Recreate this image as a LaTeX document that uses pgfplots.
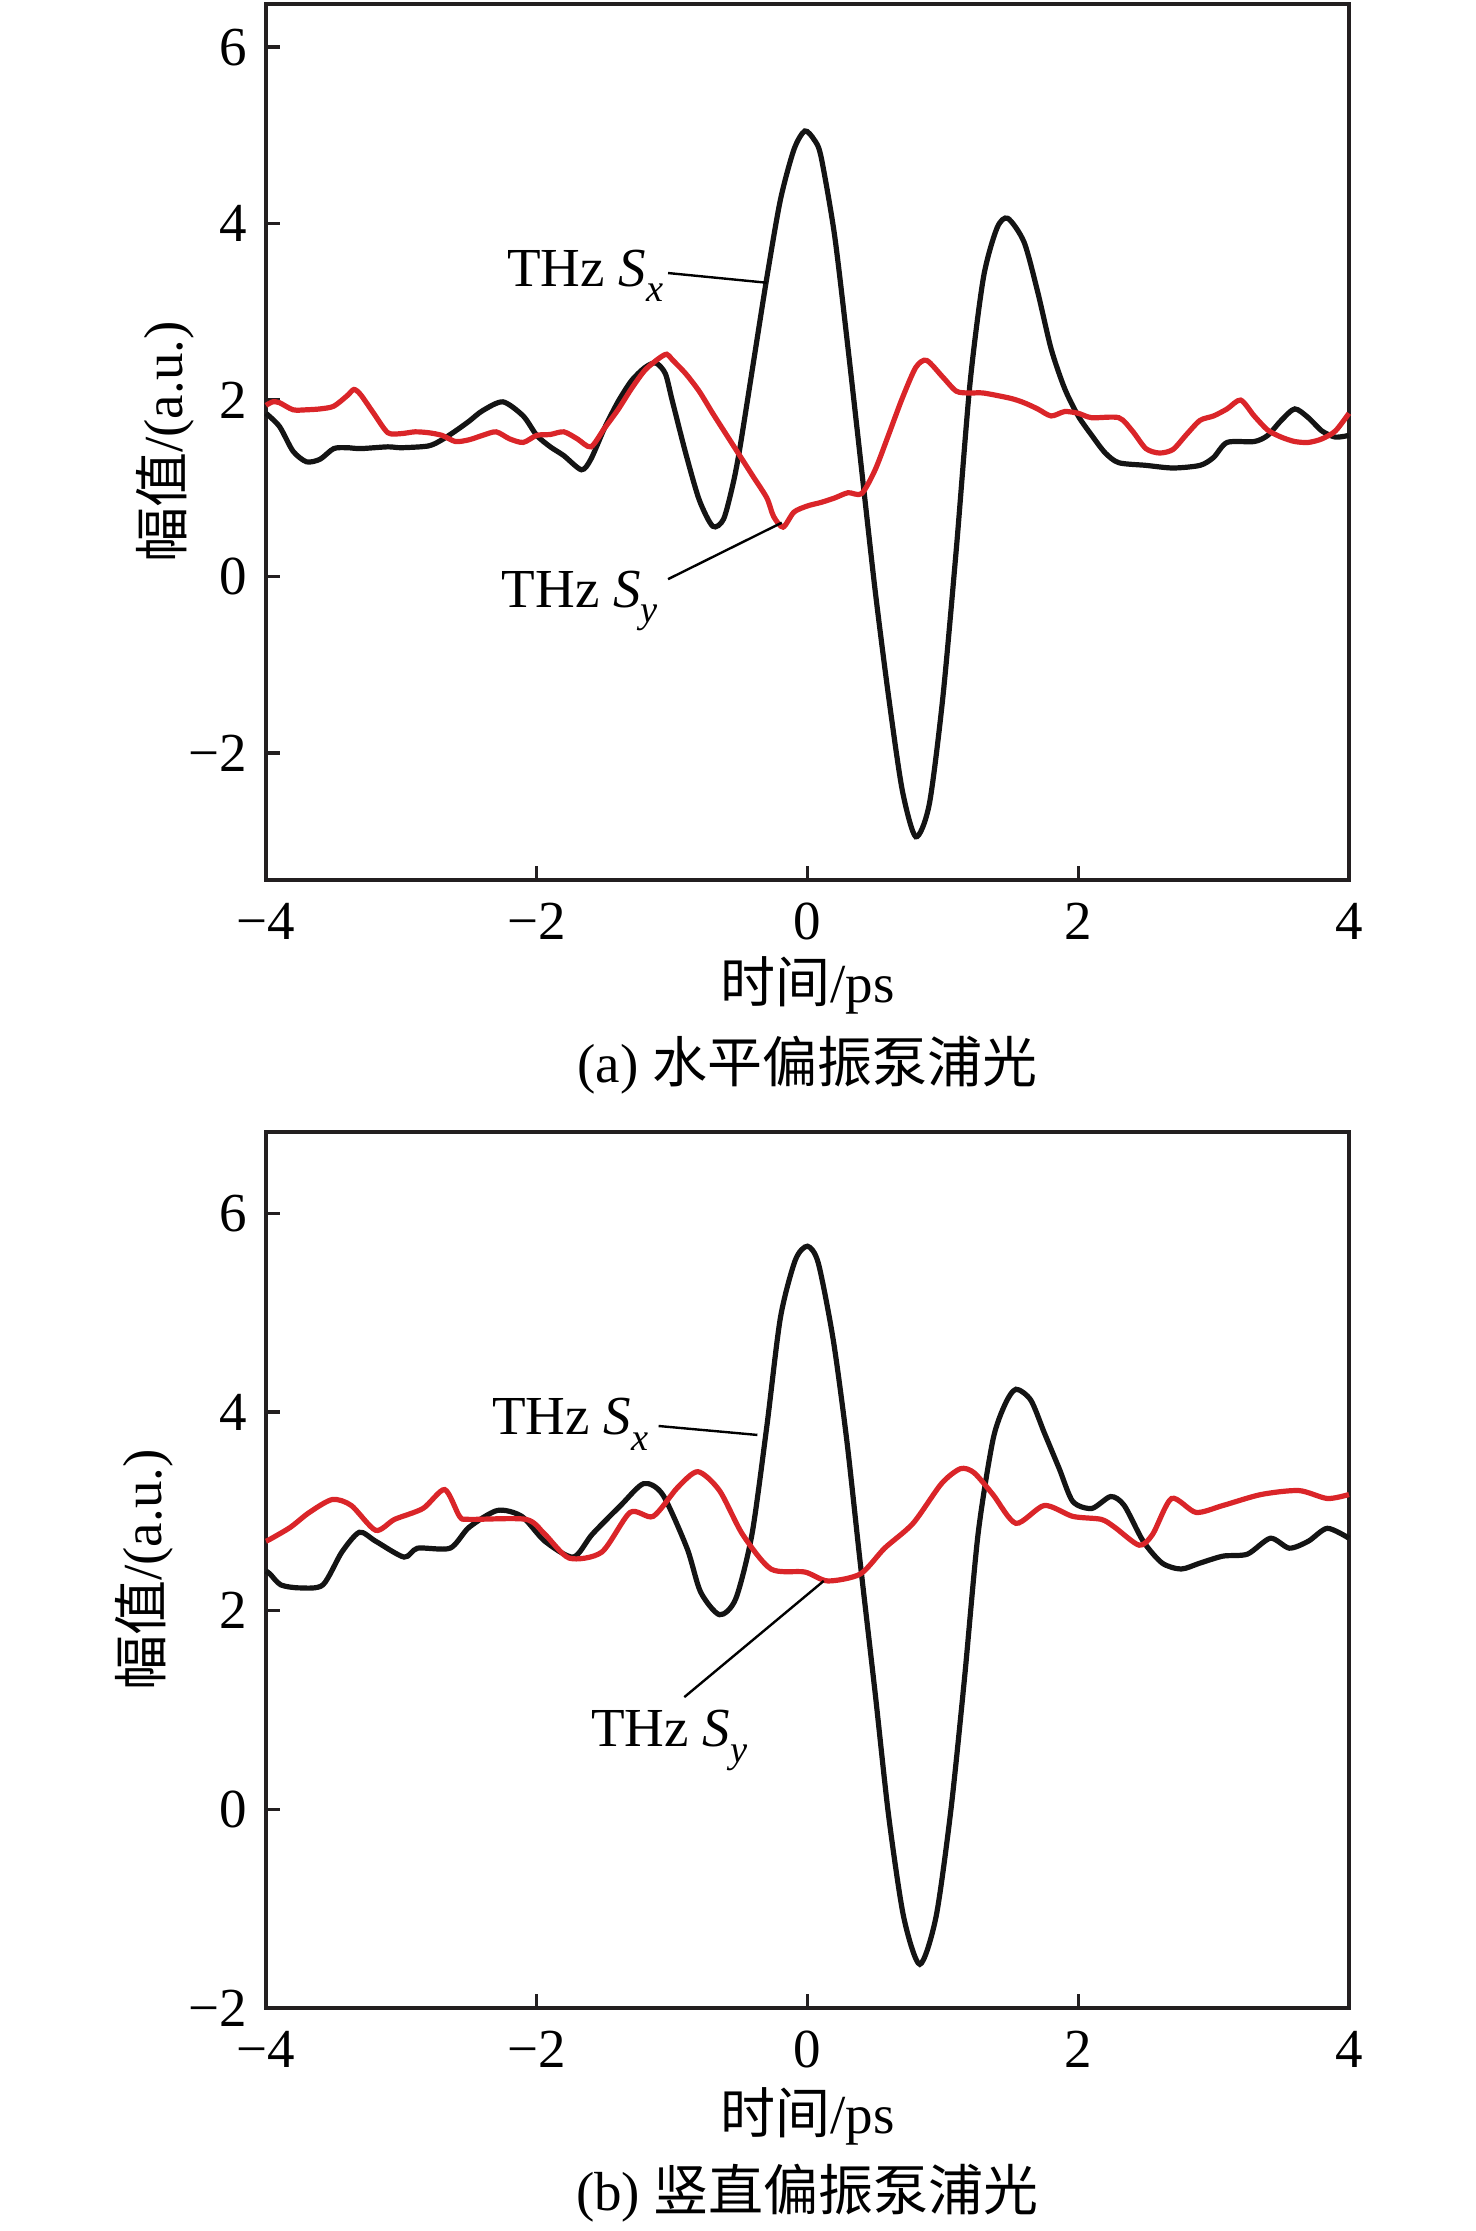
\documentclass[border=0pt]{standalone}
\usepackage{pgfplots}
\pgfplotsset{compat=1.18}
\usepackage{fontspec}
\setmainfont{Liberation Serif}
\newfontfamily\cjk{Noto Sans CJK SC}
\definecolor{sred}{RGB}{218,37,41}
\definecolor{axgray}{RGB}{35,31,32}
\definecolor{sblack}{RGB}{20,20,20}
\newcommand{\subsc}[1]{\raisebox{-0.28em}{\fontsize{9.6}{10}\selectfont\textit{#1}}}
\pgfplotsset{
  myax/.style={
    scale only axis, width=270.75pt, height=219pt,
    xmin=-4, xmax=4,
    xtick={-4,-2,0,2,4}, xticklabels={−4,−2,0,2,4},
    xtick pos=bottom, ytick pos=left,
    tick align=inside, major tick length=3.5pt,
    axis line style={line width=0.85pt, color=axgray},
    every tick/.style={line width=0.85pt, color=axgray},
    clip=false,
    xticklabel style={yshift=-1pt},
    every axis x label/.style={at={(axis description cs:0.5,-0.12)},anchor=center},
    xlabel={{\cjk 时间}/ps},
    ylabel={{\cjk 幅值}/(a.u.)},
  },
  redline/.style={color=sred, line width=1.3pt, smooth, tension=0.45},
  blackline/.style={color=sblack, line width=1.3pt, smooth, tension=0.45},
}
\begin{document}
\fontsize{13.75}{16.5}\selectfont
\begin{tikzpicture}[font=\fontsize{13.75}{16.5}\selectfont]
\path[use as bounding box] (0,0) rectangle (369pt,557.75pt);
% ---------- (a) ----------
\begin{axis}[myax, at={(66.5pt,337.75pt)}, anchor=south west,
  ymin=-3.44, ymax=6.49,
  ytick={-2,0,2,4,6}, yticklabels={−2,0,2,4,6},
  every axis y label/.style={at={(axis description cs:-0.0933,0.5)},rotate=90,anchor=center}]
\addplot[blackline] coordinates {
(-4,1.85)(-3.9,1.7)(-3.8,1.42)(-3.7,1.3)(-3.6,1.33)(-3.5,1.45)(-3.4,1.46)(-3.3,1.45)(-3.1,1.47)(-3.0,1.46)(-2.8,1.48)(-2.7,1.55)(-2.6,1.65)(-2.5,1.76)(-2.4,1.88)(-2.25,1.98)(-2.1,1.82)(-2.0,1.6)(-1.9,1.47)(-1.8,1.37)(-1.67,1.21)(-1.6,1.33)(-1.5,1.68)(-1.4,1.98)(-1.3,2.22)(-1.2,2.37)(-1.12,2.42)(-1.05,2.3)(-1.0,2.0)(-0.9,1.4)(-0.8,0.87)(-0.7,0.57)(-0.62,0.65)(-0.55,1.05)(-0.5,1.45)(-0.4,2.42)(-0.3,3.39)(-0.2,4.27)(-0.1,4.84)(-0.02,5.05)(0.05,4.95)(0.1,4.76)(0.2,3.87)(0.3,2.58)(0.4,1.21)(0.5,-0.16)(0.6,-1.37)(0.7,-2.42)(0.8,-2.95)(0.9,-2.58)(1.0,-1.37)(1.1,0.32)(1.2,2.18)(1.3,3.39)(1.4,3.95)(1.48,4.06)(1.6,3.79)(1.7,3.23)(1.8,2.58)(1.9,2.13)(2.0,1.82)(2.1,1.6)(2.2,1.4)(2.3,1.29)(2.5,1.26)(2.7,1.23)(2.9,1.26)(3.0,1.35)(3.1,1.52)(3.3,1.53)(3.4,1.6)(3.5,1.77)(3.6,1.9)(3.7,1.8)(3.8,1.65)(3.9,1.58)(4.0,1.6)
};
\addplot[redline] coordinates {
(-4,1.94)(-3.95,1.98)(-3.9,1.97)(-3.8,1.89)(-3.7,1.89)(-3.6,1.9)(-3.5,1.93)(-3.4,2.05)(-3.35,2.12)(-3.3,2.06)(-3.2,1.84)(-3.1,1.63)(-3.0,1.62)(-2.9,1.64)(-2.8,1.63)(-2.7,1.6)(-2.6,1.53)(-2.5,1.55)(-2.4,1.6)(-2.3,1.64)(-2.2,1.56)(-2.1,1.52)(-2.0,1.6)(-1.9,1.61)(-1.8,1.64)(-1.7,1.56)(-1.6,1.47)(-1.5,1.68)(-1.4,1.89)(-1.3,2.13)(-1.2,2.34)(-1.1,2.47)(-1.04,2.52)(-1.0,2.46)(-0.9,2.3)(-0.8,2.1)(-0.7,1.85)(-0.6,1.61)(-0.5,1.37)(-0.4,1.13)(-0.3,0.89)(-0.25,0.68)(-0.18,0.56)(-0.1,0.73)(0,0.8)(0.1,0.84)(0.2,0.89)(0.3,0.95)(0.4,0.94)(0.5,1.21)(0.6,1.61)(0.7,2.02)(0.8,2.37)(0.88,2.45)(1.0,2.26)(1.1,2.1)(1.2,2.08)(1.3,2.08)(1.5,2.02)(1.6,1.97)(1.7,1.9)(1.8,1.82)(1.9,1.87)(2.0,1.85)(2.1,1.8)(2.3,1.8)(2.4,1.65)(2.5,1.45)(2.6,1.4)(2.7,1.44)(2.8,1.61)(2.9,1.77)(3.0,1.82)(3.1,1.9)(3.2,2.0)(3.3,1.82)(3.4,1.66)(3.5,1.58)(3.6,1.53)(3.7,1.52)(3.8,1.56)(3.9,1.65)(4.0,1.85)
};
\draw[line width=0.6pt] (axis cs:-1.03,3.44) -- (axis cs:-0.30,3.33);
\draw[line width=0.6pt] (axis cs:-1.03,-0.03) -- (axis cs:-0.19,0.61);
\node[anchor=base east, inner sep=0pt] at (axis cs:-1.06,3.29) {THz \textit{S}\subsc{x}};
\node[anchor=base east, inner sep=0pt] at (axis cs:-1.10,-0.35) {THz \textit{S}\subsc{y}};
\node[anchor=center] at (axis description cs:0.5,-0.2112) {(a) {\cjk 水平偏振泵浦光}};
\end{axis}
% ---------- (b) ----------
\begin{axis}[myax, at={(66.5pt,55.75pt)}, anchor=south west,
  ymin=-2, ymax=6.82,
  ytick={-2,0,2,4,6}, yticklabels={−2,0,2,4,6},
  every axis x label/.style={at={(axis description cs:0.5,-0.1233)},anchor=center},
  every axis y label/.style={at={(axis description cs:-0.1127,0.5)},rotate=90,anchor=center}]
\addplot[blackline] coordinates {
(-4,2.4)(-3.97,2.37)(-3.89,2.26)(-3.75,2.23)(-3.58,2.26)(-3.44,2.59)(-3.31,2.79)(-3.19,2.70)(-2.98,2.54)(-2.88,2.63)(-2.64,2.63)(-2.50,2.84)(-2.29,3.01)(-2.11,2.95)(-1.94,2.70)(-1.73,2.54)(-1.59,2.77)(-1.38,3.06)(-1.21,3.28)(-1.07,3.17)(-0.89,2.63)(-0.79,2.19)(-0.65,1.96)(-0.53,2.12)(-0.41,2.77)(-0.30,3.86)(-0.20,4.95)(-0.09,5.53)(0.0,5.67)(0.08,5.50)(0.19,4.73)(0.29,3.72)(0.39,2.48)(0.50,1.17)(0.60,-0.07)(0.71,-1.08)(0.83,-1.56)(0.95,-1.08)(1.06,0.0)(1.16,1.32)(1.26,2.77)(1.37,3.72)(1.46,4.08)(1.54,4.23)(1.65,4.12)(1.75,3.79)(1.86,3.43)(1.96,3.10)(2.10,3.03)(2.24,3.15)(2.34,3.06)(2.48,2.70)(2.62,2.48)(2.76,2.42)(2.90,2.48)(3.07,2.55)(3.25,2.57)(3.42,2.73)(3.56,2.63)(3.70,2.70)(3.84,2.83)(4.0,2.73)
};
\addplot[redline] coordinates {
(-4,2.7)(-3.97,2.72)(-3.82,2.84)(-3.68,2.99)(-3.51,3.12)(-3.37,3.06)(-3.19,2.81)(-3.05,2.92)(-2.84,3.03)(-2.68,3.22)(-2.57,2.95)(-2.50,2.92)(-2.08,2.92)(-1.94,2.77)(-1.76,2.53)(-1.52,2.59)(-1.31,2.99)(-1.14,2.95)(-0.96,3.24)(-0.81,3.40)(-0.65,3.21)(-0.48,2.77)(-0.27,2.42)(-0.02,2.39)(0.15,2.30)(0.39,2.37)(0.57,2.63)(0.78,2.88)(0.99,3.28)(1.13,3.43)(1.23,3.39)(1.37,3.17)(1.54,2.88)(1.75,3.06)(1.96,2.95)(2.17,2.92)(2.27,2.84)(2.45,2.66)(2.55,2.77)(2.69,3.13)(2.87,2.99)(3.07,3.06)(3.35,3.17)(3.63,3.21)(3.84,3.13)(4.0,3.17)
};
\draw[line width=0.6pt] (axis cs:-1.10,3.86) -- (axis cs:-0.37,3.77);
\draw[line width=0.6pt] (axis cs:-0.91,1.13) -- (axis cs:0.12,2.30);
\node[anchor=base east, inner sep=0pt] at (axis cs:-1.17,3.77) {THz \textit{S}\subsc{x}};
\node[anchor=base east, inner sep=0pt] at (axis cs:-0.44,0.63) {THz \textit{S}\subsc{y}};
\node[anchor=center] at (axis description cs:0.5,-0.2112) {(b) {\cjk 竖直偏振泵浦光}};
\end{axis}
\end{tikzpicture}
\end{document}
